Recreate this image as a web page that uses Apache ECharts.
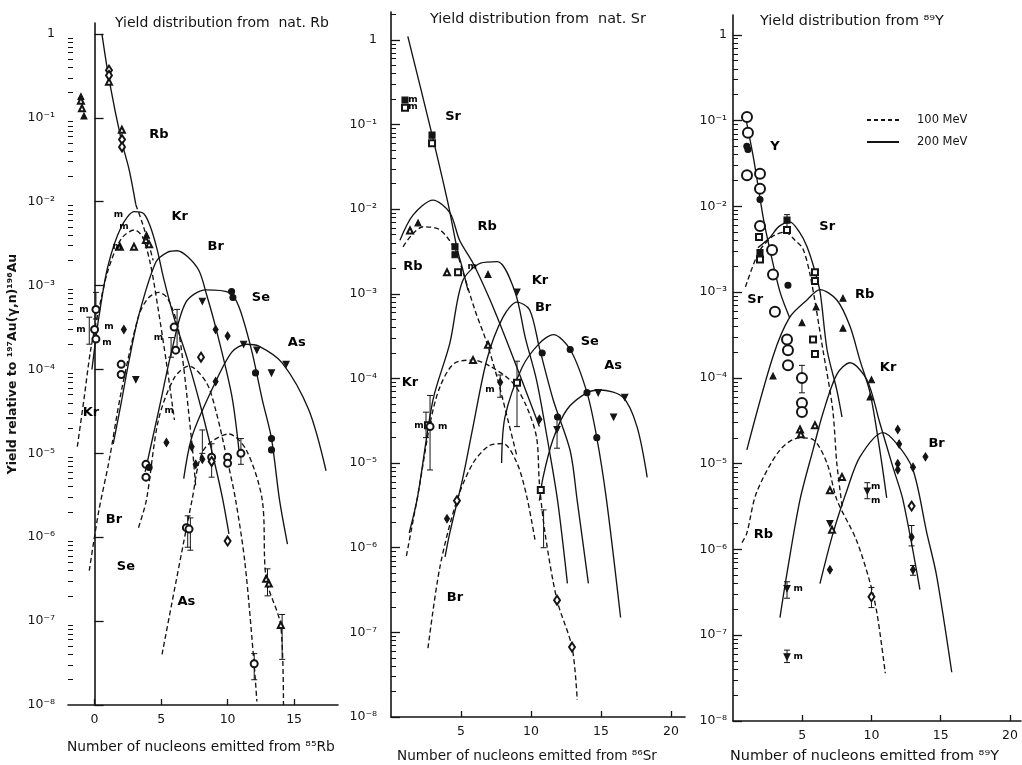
<!DOCTYPE html>
<html><head><meta charset="utf-8">
<script src="https://cdn.jsdelivr.net/npm/echarts@6.0.0/dist/echarts.min.js"></script>
<style>html,body{margin:0;padding:0;background:#fff}#c{width:1022px;height:765px}</style>
</head><body><div id="c"></div>
<script>
// ---------------- Panel 1 : nat. Rb ----------------
const p1_Rb_200 = [[0.55,1.0],[1.1,0.28],[2.0,0.055],[2.6,0.024],[3.1,0.0092]];
const p1_Rb_100 = [[3.1,0.0092],[3.6,0.0055],[4.1,0.003],[4.4,0.002]];
const p1_Kr_200 = [[-0.2,1.0e-4],[0.3,4e-4],[1.0,1.7e-3],[2.0,5.0e-3],[3.0,7.6e-3],[3.7,7.2e-3],[4.2,5.0e-3],[4.7,2.7e-3],[5.2,1.2e-3],[6.0,4.0e-4],[7.0,1.3e-4],[8.0,3.5e-5],[9.0,8e-6],[9.6,3e-6],[10.1,1.1e-6]];
const p1_Kr_100 = [[-1.3,1.2e-5],[-0.8,4.4e-5],[-0.3,1.7e-4],[0.3,5e-4],[1.0,1.5e-3],[2.0,3.6e-3],[3.0,4.6e-3],[3.6,3.8e-3],[4.2,1.8e-3],[4.8,5e-4],[5.4,1.2e-4],[6.0,2.5e-5]];
const p1_Br_200 = [[1.4,1.3e-5],[2.0,4e-5],[2.6,1.3e-4],[3.3,4.3e-4],[4.6,1.9e-3],[5.5,2.5e-3],[6.2,2.6e-3],[7.0,2.2e-3],[7.85,1.5e-3],[8.4,8e-4],[9.1,3.2e-4],[10.3,5e-5],[10.85,1.1e-5]];
const p1_Br_100 = [[-0.4,4e-7],[0.3,2e-6],[1.08,8e-6],[2.0,5.4e-5],[3.3,4.3e-4],[4.0,7e-4],[4.8,8.3e-4],[5.5,7e-4],[6.3,3e-4],[7.3,1.4e-5],[7.6,4e-6]];
const p1_Se_200 = [[3.8,6e-6],[4.83,3.3e-5],[5.81,1.7e-4],[6.86,6.3e-4],[8.36,8.9e-4],[10.1,8.3e-4],[10.85,5.6e-4],[11.8,1.7e-4],[12.6,4.4e-5],[13.3,1.5e-5],[13.9,2.8e-6],[14.5,8.3e-7]];
const p1_Se_100 = [[3.3,1.3e-6],[3.9,2.8e-6],[4.8,2.5e-5],[6.0,8e-5],[7.1,1.1e-4],[8.4,7e-5],[9.1,3.3e-5],[10.0,8e-6],[10.6,2.8e-6],[11.3,5e-7],[12.0,3e-8],[12.2,1.1e-8]];
const p1_As_200 = [[6.7,5e-6],[7.33,1.6e-5],[8.83,5.8e-5],[10.3,1.6e-4],[11.4,2e-4],[12.35,1.9e-4],[14.1,1.2e-4],[16.1,3.3e-5],[17.4,6.2e-6]];
const p1_As_100 = [[5.07,4e-8],[7.33,2.8e-6],[8.2,1.1e-5],[10.1,1.7e-5],[11.4,1.1e-5],[12.6,2.8e-6],[12.9,3.2e-7],[14.0,8.7e-8],[14.2,1e-8]];
const p1_labels = [[4.83,0.063,'Rb'],[6.4,6.6e-3,'Kr'],[9.1,2.9e-3,'Br'],[12.5,7.2e-4,'Se'],[15.2,2.1e-4,'As'],[-0.28,3.1e-5,'Kr'],[1.45,1.6e-6,'Br'],[2.35,4.5e-7,'Se'],[6.9,1.7e-7,'As']];
const p1_openCircle = [[0.1,5.2e-4],[0.0,3e-4],[0.1,2.3e-4],[2.0,1.15e-4],[2.0,8.7e-5],[3.86,7.4e-6],[3.86,5.2e-6],[5.98,3.2e-4],[6.1,1.7e-4],[6.9,1.3e-6],[7.1,1.25e-6],[8.8,9e-6],[10.0,9e-6],[10.0,7.6e-6],[11.0,1e-5],[12.0,3.1e-8]];
const p1_openTriangle = [[-1.03,0.16],[-0.95,0.13],[1.08,0.27],[2.05,0.072],[3.86,3.5e-3],[4.1,3.1e-3],[1.9,2.9e-3],[2.96,2.9e-3],[12.9,3.2e-7],[13.1,2.8e-7],[14.0,9e-8]];
const p1_filledTriangle = [[-1.03,0.18],[-0.8,0.105],[3.9,4e-3]];
const p1_openDiamond = [[1.08,0.37],[1.08,0.32],[2.06,0.055],[2.06,0.045],[8.0,1.4e-4],[10.0,9e-7],[8.8,8e-6]];
const p1_filledCircle = [[10.3,8.5e-4],[10.4,7.2e-4],[12.1,9.1e-5],[13.3,1.5e-5],[13.3,1.1e-5],[4.1,6.8e-6]];
const p1_downTriangle = [[8.1,6.5e-4],[11.2,2e-4],[12.2,1.7e-4],[13.3,9.1e-5],[14.4,1.15e-4],[3.1,7.6e-5]];
const p1_filledDiamond = [[2.2,3e-4],[7.3,1.2e-5],[8.1,8.5e-6],[7.6,7.4e-6],[9.1,7.2e-5],[9.1,3e-4],[10.0,2.5e-4],[5.4,1.35e-5]];
const p1_err = [[0.1,4e-4,8.3e-4],[-0.4,2e-4,4.2e-4],[6.2,1.7e-4,5.2e-4],[5.75,1.4e-4,2.4e-4],[8.1,1e-5,1.9e-5],[7.0,7.6e-7,1.8e-6],[7.2,7e-7,1.7e-6],[8.8,5.2e-6,1.3e-5],[11.0,7.4e-6,1.5e-5],[13.0,2e-7,4.2e-7],[14.1,3.5e-8,1.2e-7],[12.0,2e-8,4.1e-8]];
const p1_m = [[-0.8,5.2e-4],[-1.03,3e-4],[1.08,3.2e-4],[0.93,2.1e-4],[5.6,3.2e-5],[4.8,2.4e-4],[1.8,7e-3],[2.2,5e-3],[1.7,2.9e-3]];

// ---------------- Panel 2 : nat. Sr ----------------
const p2_Sr_200 = [[1.2,1.1],[2.9,0.08],[4.07,0.0118],[4.71,3.5e-3],[5.14,1.9e-3],[5.5,1.1e-3]];
const p2_Rb_200 = [[0.64,4.3e-3],[1.57,8.5e-3],[3.0,0.0128],[4.2,9.1e-3],[4.9,4.3e-3],[5.86,2.3e-3],[7.07,8.5e-4],[8.5,2.2e-4],[10.6,2.7e-5]];
const p2_Rb_100 = [[0.86,3.6e-3],[1.5,5e-3],[2.3,6.2e-3],[3.5,5.7e-3],[4.6,3.3e-3],[5.1,1.9e-3],[6.0,6.4e-4],[6.86,2.6e-4],[7.6,1e-4],[8.4,3e-5],[9.0,1.2e-5]];
const p2_Kr_200 = [[1.3,1.5e-6],[1.9,4e-6],[3.0,5.6e-5],[4.2,2.6e-4],[5.1,1.4e-3],[6.4,2.3e-3],[7.6,2.4e-3],[8.86,1.05e-3],[9.6,3e-4],[10.4,9.5e-5],[11.2,1.8e-5],[11.9,3.6e-6],[12.6,3.8e-7]];
const p2_Kr_100 = [[1.1,8e-7],[2.0,5e-6],[2.8,3e-5],[3.5,8e-5],[4.5,1.5e-4],[5.86,1.65e-4],[7.07,1.4e-4],[8.7,8.9e-5],[9.7,4.6e-5],[10.4,2e-5],[10.6,5.8e-6],[11.0,1.5e-6],[11.86,2.4e-7],[12.93,6.7e-8],[13.3,1.6e-8]];
const p2_Br_200 = [[3.86,7.8e-7],[4.2,1.5e-6],[5.14,6.8e-6],[5.86,2.7e-5],[6.86,1.7e-4],[8.0,5.3e-4],[9.0,8e-4],[9.9,6.5e-4],[10.6,2.3e-4],[11.6,5.5e-5],[12.8,1.4e-5],[13.3,3.6e-6],[14.1,3.8e-7]];
const p2_Br_100 = [[2.64,6.5e-8],[3.5,6e-7],[4.7,3.6e-6],[5.86,1e-5],[7.0,1.6e-5],[8.0,1.7e-5],[9.0,1e-5],[9.7,4e-6],[10.3,1.2e-6]];
const p2_Se_200 = [[7.9,1e-5],[8.14,3.5e-5],[9.36,1.35e-4],[10.6,2.6e-4],[11.6,3.3e-4],[12.8,2.2e-4],[14.0,6.8e-5],[14.7,2e-5],[15.4,3.6e-6],[16.4,1.5e-7]];
const p2_As_200 = [[10.6,3.6e-6],[10.86,6.8e-6],[11.57,1.9e-5],[12.57,4.3e-5],[14.0,6.8e-5],[14.93,7.3e-5],[16.57,6e-5],[17.57,2.7e-5],[18.3,6.8e-6]];
const p2_labels = [[4.43,0.123,'Sr'],[6.86,6.2e-3,'Rb'],[1.57,2.1e-3,'Rb'],[10.64,1.45e-3,'Kr'],[10.86,6.9e-4,'Br'],[14.2,2.7e-4,'Se'],[15.86,1.4e-4,'As'],[1.36,8.9e-5,'Kr'],[4.57,2.6e-7,'Br']];
const p2_openRect = [[1.0,0.158],[2.93,0.06],[4.79,1.8e-3],[2.64,2.8e-5],[9.0,8.9e-5],[10.7,4.8e-6]];
const p2_filledRect = [[1.0,0.195],[2.93,0.075],[4.57,3.6e-3],[4.57,2.9e-3]];
const p2_openTriangle = [[4.0,1.8e-3],[1.36,5.6e-3],[6.93,2.5e-4],[5.86,1.65e-4]];
const p2_filledTriangle = [[1.93,6.9e-3],[6.93,1.7e-3]];
const p2_downTriangle = [[9.0,1.05e-3],[14.8,6.8e-5],[16.7,6e-5],[15.9,3.5e-5],[11.86,2.5e-5]];
const p2_filledCircle = [[12.8,2.2e-4],[14.0,6.8e-5],[14.7,2e-5],[11.9,3.5e-5],[10.8,2e-4]];
const p2_openCircle = [[2.79,2.7e-5]];
const p2_openDiamond = [[11.86,2.4e-7],[12.93,6.7e-8],[4.71,3.6e-6]];
const p2_filledDiamond = [[7.8,9e-5],[4.0,2.2e-6],[10.6,3.3e-5]];
const p2_err = [[2.79,8.3e-6,6.3e-5],[2.5,2e-5,4e-5],[9.0,2.7e-5,1.6e-4],[7.8,6e-5,1.1e-4],[10.9,1e-6,2.8e-6],[11.86,1.5e-5,3.5e-5]];
const p2_m = [[1.57,0.195],[1.57,0.162],[2.0,2.8e-5],[3.7,2.7e-5],[7.07,7.3e-5],[5.8,2.1e-3]];

// ---------------- Panel 3 : 89Y ----------------
const p3_Y_200 = [[0.87,0.117],[1.5,0.035],[2.17,7.6e-3],[2.67,3.1e-3],[3.4,1e-3],[4.1,5e-4]];
const p3_Sr_200 = [[1.8,3.3e-3],[2.7,4.4e-3],[3.3,5.8e-3],[4.1,6.6e-3],[4.8,5e-3],[5.34,3.4e-3],[5.9,1.8e-3],[6.3,9.8e-4],[6.8,2.1e-4],[7.5,7.2e-5],[7.87,3.5e-5]];
const p3_Sr_100 = [[0.9,1.15e-3],[1.9,3e-3],[2.9,4.5e-3],[3.75,5e-3],[4.5,4e-3],[5.05,3.2e-3],[5.6,1.5e-3],[6.5,2.1e-4],[7.2,4.3e-5],[7.5,1e-5],[7.9,3e-6]];
const p3_Rb_200 = [[1.0,1.45e-5],[2.9,1.8e-4],[4.1,5.1e-4],[5.34,8.1e-4],[6.28,1.07e-3],[7.5,8.1e-4],[8.45,4e-4],[9.17,1.6e-4],[9.9,6.7e-5],[10.6,1.45e-5],[11.1,4e-6]];
const p3_Rb_100 = [[0.65,1.2e-6],[1.0,1.55e-6],[1.7,4.6e-6],[3.4,1.45e-5],[4.8,2e-5],[5.8,1.9e-5],[6.8,1e-5],[7.5,3.8e-6],[8.9,1.3e-6],[9.9,4.1e-7],[10.4,1.8e-7],[11.0,3.6e-8]];
const p3_Kr_200 = [[3.39,1.6e-7],[3.9,5.3e-7],[4.84,3.8e-6],[5.78,1.45e-5],[6.5,3.9e-5],[7.5,1.1e-4],[8.45,1.5e-4],[9.67,9.5e-5],[10.6,3e-5],[11.55,9.1e-6],[12.27,3.8e-6],[13.5,3.4e-7]];
const p3_Br_200 = [[6.28,4e-7],[7.2,1.5e-6],[8.23,4.9e-6],[9.17,1.2e-5],[10.83,2.3e-5],[11.84,1.7e-5],[13.0,8.5e-6],[14.0,1.55e-6],[14.7,5e-7],[15.8,3.7e-8]];
const p3_labels = [[3.03,0.049,'Y'],[6.8,5.8e-3,'Sr'],[1.6,8.1e-4,'Sr'],[9.5,9.3e-4,'Rb'],[11.2,1.3e-4,'Kr'],[14.7,1.7e-5,'Br'],[2.2,1.5e-6,'Rb']];
const p3_bigCircle = [[1.01,0.11],[1.08,0.072],[1.01,0.023],[1.95,0.024],[1.95,0.016],[1.95,5.9e-3],[2.82,3.1e-3],[2.89,1.6e-3],[3.03,5.9e-4],[3.9,2.8e-4],[3.97,2.1e-4],[3.97,1.4e-4],[4.98,1e-4],[4.98,5.1e-5],[4.98,4e-5]];
const p3_openRect = [[1.88,4.4e-3],[1.95,2.4e-3],[3.9,5.3e-3],[5.92,1.7e-3],[5.92,1.35e-3],[5.78,2.8e-4],[5.92,1.9e-4]];
const p3_filledRect = [[3.9,6.9e-3],[1.95,2.9e-3]];
const p3_filledTriangle = [[7.94,8.5e-4],[4.98,4.4e-4],[6.0,6.7e-4],[7.94,3.8e-4],[2.89,1.05e-4],[9.9,6e-5],[10.0,9.5e-5]];
const p3_openTriangle = [[4.84,2.5e-5],[4.9,2.2e-5],[5.92,2.8e-5],[7.87,7e-6],[7.0,4.9e-6],[7.15,1.7e-6]];
const p3_filledCircle = [[3.97,1.2e-3],[1.08,0.046],[1.95,0.012],[1.0,0.05]];
const p3_filledDiamond = [[11.9,2.5e-5],[12.0,1.7e-5],[11.9,1e-5],[11.9,8.5e-6],[13.0,9.1e-6],[12.9,1.4e-6],[13.0,5.8e-7],[13.9,1.2e-5],[7.0,5.8e-7]];
const p3_openDiamond = [[10.0,2.8e-7],[12.9,3.2e-6]];
const p3_downTriangle = [[3.9,3.5e-7],[3.9,5.6e-8],[7.0,2e-6],[9.7,4.8e-6]];
const p3_err = [[3.9,2.7e-7,4.2e-7],[3.9,4.8e-8,6.7e-8],[10.0,2.1e-7,3.6e-7],[4.98,6.7e-5,1.4e-4],[12.9,1.1e-6,1.9e-6],[13.0,5e-7,6.5e-7],[3.9,5e-3,8e-3],[9.7,3.9e-6,6e-6]];
const p3_m = [[4.7,3.5e-7],[4.7,5.6e-8],[10.3,5.4e-6],[10.3,3.7e-6]];

// ---------------- Axis text ----------------
const titles = ['Yield distribution from  nat. Rb','Yield distribution from  nat. Sr','Yield distribution from \u2078\u2079Y'];
const xTitles = ['Number of nucleons emitted from \u2078\u2075Rb','Number of nucleons emitted from \u2078\u2076Sr','Number of nucleons emitted from \u2078\u2079Y'];
const yTitle = 'Yield relative to \u00b9\u2079\u2077Au(\u03b3,n)\u00b9\u2079\u2076Au';
const xTickValues = [[0,5,10,15],[5,10,15,20],[5,10,15,20]];
const decadeExps = [-8,-7,-6,-5,-4,-3,-2,-1,0];
const minorMult = [2,3,4,5,6,7,8,9];
const legendNames = ['100 MeV','200 MeV'];

// ---------------- Build chart ----------------
const INK = '#141414';
const FONT = 'DejaVu Sans';
const layout = [
  {left:68, top:23, width:270, height:682, xMin:-2, xMax:18.3, yMax:1.35, lm:13, tx:115, ty:16, tf:14, nx:67, ny:740, nf:13.8},
  {left:391, top:12, width:294, height:705, xMin:0, xMax:21, yMax:2.14, lm:14, tx:430, ty:12, tf:14.4, nx:397, ny:749, nf:13.6},
  {left:733, top:15, width:288, height:706, xMin:0, xMax:20.8, yMax:1.7, lm:6, tx:760, ty:14, tf:14.4, nx:730, ny:749, nf:14.4}
];
const supMap = {'-':'\u207b','0':'\u2070','1':'\u00b9','2':'\u00b2','3':'\u00b3','4':'\u2074','5':'\u2075','6':'\u2076','7':'\u2077','8':'\u2078','9':'\u2079'};
function powLabel(v){
  const e = Math.round(Math.log10(v));
  if (e === 0) return '1';
  return '10' + String(e).split('').map(c => supMap[c]).join('');
}
const grids = [], xAxes = [], yAxes = [], series = [], graphics = [];
layout.forEach((L, i) => {
  grids.push({left:L.left, top:L.top, width:L.width, height:L.height});
  xAxes.push({type:'value', gridIndex:i, min:L.xMin, max:L.xMax,
    axisLine:{show:true, onZero:false, lineStyle:{color:INK, width:1.6}},
    axisTick:{show:true, inside:true, length:6, lineStyle:{color:INK, width:1.3}, customValues:xTickValues[i]},
    axisLabel:{show:true, color:INK, fontFamily:FONT, fontSize:12.5, margin:8, customValues:xTickValues[i]},
    splitLine:{show:false}});
  const majors = decadeExps.map(e => Math.pow(10, e));
  const minors = [];
  decadeExps.forEach(e => minorMult.forEach(k => { const v = k*Math.pow(10,e); if (v <= L.yMax) minors.push(v); }));
  const yMain = {type:'log', logBase:10, gridIndex:i, min:1e-8, max:L.yMax,
    axisLine:{show:true, lineStyle:{color:INK, width:1.6}},
    axisTick:{show:true, inside:true, length:9, lineStyle:{color:INK, width:1.3}, customValues:majors},
    axisLabel:{show:true, color:INK, fontFamily:FONT, fontSize:12.5, margin:L.lm, customValues:majors, formatter:powLabel},
    splitLine:{show:false}, minorTick:{show:false}};
  if (i === 0) {
    yMain.name = yTitle; yMain.nameLocation = 'middle'; yMain.nameGap = 49; yMain.nameRotate = 90;
    yMain.nameTextStyle = {color:INK, fontFamily:FONT, fontSize:12.5, fontWeight:'bold'};
  }
  yAxes.push(yMain);
  yAxes.push({type:'log', logBase:10, gridIndex:i, min:1e-8, max:L.yMax, position:'left',
    axisLine:{show:false}, axisLabel:{show:false}, splitLine:{show:false},
    axisTick:{show:true, inside:true, length:5, lineStyle:{color:INK, width:1}, customValues:minors}});
  graphics.push({type:'text', left:L.tx, top:L.ty, style:{text:titles[i], fill:INK, font:L.tf + 'px "DejaVu Sans"'}});
  graphics.push({type:'text', left:L.nx, top:L.ny, style:{text:xTitles[i], fill:INK, font:L.nf + 'px "DejaVu Sans"'}});
});

function curve(p, data, dashed, name){
  series.push({type:'line', name:name, xAxisIndex:p, yAxisIndex:2*p, data:data, symbol:'none',
    smooth:0.3, silent:true, z:3, animation:false, itemStyle:{color:INK},
    lineStyle:{color:INK, width:1.35, type: dashed ? [5,3] : 'solid'}});
}
const curves = [
  [0,p1_Rb_200,0],[0,p1_Rb_100,1],[0,p1_Kr_200,0],[0,p1_Kr_100,1],[0,p1_Br_200,0],[0,p1_Br_100,1],
  [0,p1_Se_200,0],[0,p1_Se_100,1],[0,p1_As_200,0],[0,p1_As_100,1],
  [1,p2_Sr_200,0],[1,p2_Rb_200,0],[1,p2_Rb_100,1],[1,p2_Kr_200,0],[1,p2_Kr_100,1],[1,p2_Br_200,0],
  [1,p2_Br_100,1],[1,p2_Se_200,0],[1,p2_As_200,0],
  [2,p3_Y_200,0],[2,p3_Sr_200,0],[2,p3_Sr_100,1],[2,p3_Rb_200,0],[2,p3_Rb_100,1],[2,p3_Kr_200,0],[2,p3_Br_200,0]
];
curves.forEach(c => curve(c[0], c[1], c[2], c[2] ? 'c100' : 'c200'));

const markerStyles = {
  openCircle:{symbol:'emptyCircle', size:7}, bigCircle:{symbol:'emptyCircle', size:10},
  openTriangle:{symbol:'emptyTriangle', size:6}, filledTriangle:{symbol:'triangle', size:6},
  downTriangle:{symbol:'triangle', size:6, rotate:180}, openDiamond:{symbol:'emptyDiamond', size:[6,9]},
  filledDiamond:{symbol:'diamond', size:[5,8]}, filledCircle:{symbol:'circle', size:6},
  openRect:{symbol:'emptyRect', size:6}, filledRect:{symbol:'rect', size:6}
};
function markers(p, data, styleName){
  const s = markerStyles[styleName];
  series.push({type:'scatter', xAxisIndex:p, yAxisIndex:2*p, data:data, symbol:s.symbol, symbolSize:s.size,
    symbolRotate:s.rotate || 0, silent:true, z:5, animation:false,
    itemStyle:{color:INK, borderColor:INK, borderWidth:1.1, opacity:1}});
}
[
  [0,p1_openCircle,'openCircle'],[0,p1_openTriangle,'openTriangle'],[0,p1_filledTriangle,'filledTriangle'],
  [0,p1_openDiamond,'openDiamond'],[0,p1_filledCircle,'filledCircle'],[0,p1_downTriangle,'downTriangle'],
  [0,p1_filledDiamond,'filledDiamond'],
  [1,p2_openRect,'openRect'],[1,p2_filledRect,'filledRect'],[1,p2_openTriangle,'openTriangle'],
  [1,p2_filledTriangle,'filledTriangle'],[1,p2_downTriangle,'downTriangle'],[1,p2_filledCircle,'filledCircle'],
  [1,p2_openCircle,'openCircle'],[1,p2_openDiamond,'openDiamond'],[1,p2_filledDiamond,'filledDiamond'],
  [2,p3_bigCircle,'bigCircle'],[2,p3_openRect,'openRect'],[2,p3_filledRect,'filledRect'],
  [2,p3_filledTriangle,'filledTriangle'],[2,p3_openTriangle,'openTriangle'],[2,p3_filledCircle,'filledCircle'],
  [2,p3_filledDiamond,'filledDiamond'],[2,p3_openDiamond,'openDiamond'],[2,p3_downTriangle,'downTriangle']
].forEach(m => markers(m[0], m[1], m[2]));

function errRender(params, api){
  const x = api.value(0);
  const a = api.coord([x, api.value(1)]), b = api.coord([x, api.value(2)]);
  const st = {stroke:INK, lineWidth:1};
  return {type:'group', children:[
    {type:'line', shape:{x1:a[0], y1:a[1], x2:b[0], y2:b[1]}, style:st},
    {type:'line', shape:{x1:a[0]-3, y1:a[1], x2:a[0]+3, y2:a[1]}, style:st},
    {type:'line', shape:{x1:b[0]-3, y1:b[1], x2:b[0]+3, y2:b[1]}, style:st}
  ]};
}
[[0,p1_err],[1,p2_err],[2,p3_err]].forEach(e => series.push({type:'custom', xAxisIndex:e[0], yAxisIndex:2*e[0],
  data:e[1], renderItem:errRender, encode:{x:0, y:[1,2]}, silent:true, z:4, animation:false}));

function textLabels(p, arr, size){
  series.push({type:'scatter', xAxisIndex:p, yAxisIndex:2*p, symbolSize:0, silent:true, z:6, animation:false,
    itemStyle:{opacity:1},
    data:arr.map(a => ({value:[a[0], a[1]], name:a[2]})),
    label:{show:true, position:[0,0], align:'center', verticalAlign:'middle', formatter:'{b}',
      color:'#000', opacity:1, fontFamily:FONT, fontSize:size, fontWeight:'bold'}});
}
textLabels(0, p1_labels, 13); textLabels(1, p2_labels, 13); textLabels(2, p3_labels, 13);
[[0,p1_m],[1,p2_m],[2,p3_m]].forEach(m => textLabels(m[0], m[1].map(v => [v[0], v[1], 'm']), 9));

// legend carriers (no data of their own)
series.push({type:'line', name:legendNames[0], xAxisIndex:2, yAxisIndex:4, data:[], symbol:'none',
  itemStyle:{color:INK}, lineStyle:{color:INK, width:1.4, type:[4,3]}});
series.push({type:'line', name:legendNames[1], xAxisIndex:2, yAxisIndex:4, data:[], symbol:'none',
  itemStyle:{color:INK}, lineStyle:{color:INK, width:1.4, type:'solid'}});

const chart = echarts.init(document.getElementById('c'), null, {renderer:'canvas'});
chart.setOption({
  backgroundColor:'#ffffff', animation:false,
  textStyle:{fontFamily:FONT, color:INK},
  grid:grids, xAxis:xAxes, yAxis:yAxes, series:series, graphic:graphics,
  legend:{data:legendNames, orient:'vertical', left:861, top:109, itemWidth:32, itemHeight:10, itemGap:10,
    selectedMode:false, itemStyle:{opacity:0},
    textStyle:{color:INK, fontFamily:FONT, fontSize:11.5, padding:[0,0,0,13]}}
});
</script></body></html>
